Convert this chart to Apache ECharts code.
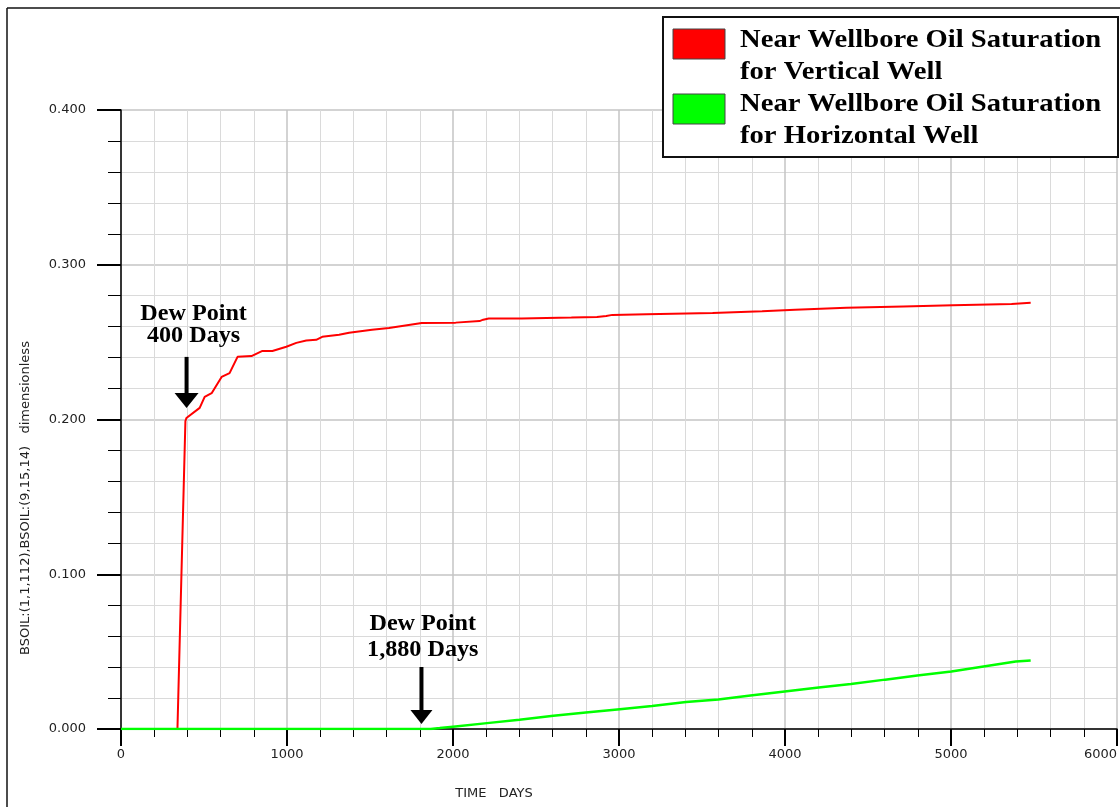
<!DOCTYPE html>
<html>
<head>
<meta charset="utf-8">
<title>Near Wellbore Oil Saturation</title>
<script src="https://cdn.jsdelivr.net/npm/echarts@6/dist/echarts.min.js"></script>
<style>
  html, body { margin: 0; padding: 0; background: #fff; }
  #chart { width: 1120px; height: 807px; }
</style>
</head>
<body>
<div id="chart"></div>
<script>
// Vertical well, grid block (1,1,112): time (days) and oil saturation
const daysVertical = [0, 340, 388, 394, 474, 504, 546, 606, 654, 702, 786, 852, 912, 996, 1056, 1116, 1176, 1212,
  1314, 1374, 1512, 1614, 1812, 2016, 2160, 2182, 2215, 2414, 2420, 2713, 2720, 2867, 2875, 2923, 2930, 2960,
  2967, 3166, 3173, 3564, 3571, 3862, 3869, 4061, 4068, 4215, 4222, 4370, 4377, 4713, 4720, 5011, 5018, 5365,
  5372, 5480];
const soilVertical = [0, 0, 0.199, 0.201, 0.2075, 0.2146, 0.217, 0.2275, 0.230, 0.2405, 0.241, 0.2443, 0.2443,
  0.247, 0.2495, 0.251, 0.2515, 0.2534, 0.2547, 0.256, 0.258, 0.2592, 0.2624, 0.2626, 0.2636, 0.2645, 0.2653,
  0.2653, 0.2659, 0.2659, 0.2663, 0.2663, 0.2669, 0.2669, 0.2676, 0.2676, 0.2680, 0.2680, 0.2688, 0.2688,
  0.2699, 0.2699, 0.2709, 0.2709, 0.2716, 0.2716, 0.2722, 0.2722, 0.2731, 0.2731, 0.2739, 0.2739, 0.2747,
  0.2747, 0.2754, 0.2754];

// Horizontal well, grid block (9,15,14)
const daysHorizontal = [0, 1866, 1920, 2000, 2205, 2400, 2605, 2800, 3005, 3199, 3404, 3598, 3792, 3998, 4203,
  4397, 4603, 4797, 5002, 5196, 5390, 5480];
const soilHorizontal = [0, 0, 0.0006, 0.0015, 0.0038, 0.006, 0.0085, 0.0106, 0.0128, 0.0149, 0.0174, 0.0191,
  0.0217, 0.0243, 0.0268, 0.0291, 0.0319, 0.0345, 0.0372, 0.0404, 0.0436, 0.0443];

// Axis ticks
const xTicks = [0, 1000, 2000, 3000, 4000, 5000, 6000];
const yTicks = [0, 0.1, 0.2, 0.3, 0.4];

// Legend entries and dew-point annotations
const seriesNames = [
  'Near Wellbore Oil Saturation\nfor Vertical Well',
  'Near Wellbore Oil Saturation\nfor Horizontal Well'
];
const seriesColors = ['#ff0000', '#00ff00'];
const dewPoints = [
  { day: 395, soil: 0.2, lines: ['Dew Point', '400 Days'] },
  { day: 1810, soil: 0, lines: ['Dew Point', '1,880 Days'] }
];

const chart = echarts.init(document.getElementById('chart'), null, { renderer: 'canvas' });

const pairs = (xs, ys) => xs.map((x, i) => [x, ys[i]]);
const LABEL_FONT = 'DejaVu Sans';
const SERIF = 'Liberation Serif';

const option = {
  animation: false,
  backgroundColor: '#ffffff',
  grid: { left: 121, top: 110, width: 1000, height: 619, containLabel: false },
  xAxis: {
    type: 'value',
    min: xTicks[0],
    max: xTicks[xTicks.length - 1],
    interval: xTicks[1] - xTicks[0],
    axisLine: { show: true, onZero: false, lineStyle: { color: '#000', width: 1.5 } },
    axisTick: { show: true, length: 17, lineStyle: { color: '#000', width: 2 } },
    minorTick: { show: true, splitNumber: 5, length: 8, lineStyle: { color: '#000', width: 1 } },
    splitLine: { show: true, lineStyle: { color: '#c4c4c4', width: 1.5 } },
    minorSplitLine: { show: true, lineStyle: { color: '#dadada', width: 1 } },
    axisLabel: {
      margin: 19, fontSize: 13, color: '#222', fontFamily: LABEL_FONT,
      alignMaxLabel: 'right',
      formatter: v => String(v)
    }
  },
  yAxis: {
    type: 'value',
    min: yTicks[0],
    max: yTicks[yTicks.length - 1],
    interval: yTicks[1] - yTicks[0],
    axisLine: { show: true, onZero: false, lineStyle: { color: '#000', width: 1.5 } },
    axisTick: { show: true, length: 24, lineStyle: { color: '#000', width: 2 } },
    minorTick: { show: true, splitNumber: 5, length: 13, lineStyle: { color: '#000', width: 1 } },
    splitLine: { show: true, lineStyle: { color: '#c4c4c4', width: 1.5 } },
    minorSplitLine: { show: true, lineStyle: { color: '#dadada', width: 1 } },
    axisLabel: {
      margin: 35, fontSize: 13, color: '#222', fontFamily: LABEL_FONT,
      formatter: v => v.toFixed(3)
    }
  },
  series: [
    {
      name: seriesNames[0],
      type: 'line',
      data: pairs(daysVertical, soilVertical),
      showSymbol: false,
      lineStyle: { color: seriesColors[0], width: 2 },
      itemStyle: { color: seriesColors[0] },
      z: 3
    },
    {
      name: seriesNames[1],
      type: 'line',
      data: pairs(daysHorizontal, soilHorizontal),
      showSymbol: false,
      lineStyle: { color: seriesColors[1], width: 2.5 },
      itemStyle: { color: seriesColors[1] },
      z: 4
    }
  ]
};

chart.setOption(option);

// Legend box, frame, axis titles and dew-point arrows
function buildGraphics() {
  const els = [];

  // outer frame (left and top edges)
  els.push({ type: 'line', shape: { x1: 7, y1: 8, x2: 1120, y2: 8 }, style: { stroke: '#111', lineWidth: 1.5 }, z: 10 });
  els.push({ type: 'line', shape: { x1: 7, y1: 8, x2: 7, y2: 807 }, style: { stroke: '#111', lineWidth: 1.5 }, z: 10 });

  // axis titles
  els.push({
    type: 'text', x: 26, y: 498, rotation: Math.PI / 2,
    style: {
      text: 'BSOIL:(1,1,112),BSOIL:(9,15,14)   dimensionless',
      fontSize: 13, fontFamily: LABEL_FONT, fill: '#222', align: 'center', verticalAlign: 'middle'
    }, z: 10
  });
  els.push({
    type: 'text', x: 494, y: 794,
    style: { text: 'TIME   DAYS', fontSize: 13, fontFamily: LABEL_FONT, fill: '#222', align: 'center', verticalAlign: 'middle' },
    z: 10
  });

  // legend
  const legendChildren = [
    { type: 'rect', shape: { x: 663, y: 17, width: 455, height: 140 }, style: { fill: '#fff', stroke: '#111', lineWidth: 2 } }
  ];
  seriesNames.forEach((name, i) => {
    const top = 29 + i * 65;
    legendChildren.push({
      type: 'rect', shape: { x: 673, y: top, width: 52, height: 30 },
      style: { fill: seriesColors[i], stroke: '#444', lineWidth: 1 }
    });
    name.split('\n').forEach((line, j) => {
      legendChildren.push({
        type: 'text', x: 740, y: 41 + i * 64 + j * 32, scaleX: 1.145,
        style: {
          text: line, fontSize: 25, fontWeight: 'bold', fontFamily: SERIF,
          fill: '#000', align: 'left', verticalAlign: 'middle'
        }
      });
    });
  });
  els.push({ type: 'group', children: legendChildren, z: 20 });

  // dew-point arrows anchored on the data scales
  const layouts = [
    { dx: 7, textY: [-105.6, -83.6], shaftTop: -62.6, headTop: -26.6, tip: -11.6, headW: 24 },
    { dx: 1.3, textY: [-105, -79], shaftTop: -62, headTop: -19, tip: -5, headW: 22 }
  ];
  dewPoints.forEach((dp, k) => {
    const [px, py] = chart.convertToPixel({ gridIndex: 0 }, [dp.day, dp.soil]);
    const L = layouts[k];
    dp.lines.forEach((line, j) => {
      els.push({
        type: 'text', x: px + L.dx, y: py + L.textY[j], scaleX: 1.05,
        style: {
          text: line, fontSize: 23, fontWeight: 'bold', fontFamily: SERIF,
          fill: '#000', align: 'center', verticalAlign: 'middle'
        },
        z: 15
      });
    });
    els.push({
      type: 'rect', shape: { x: px - 2, y: py + L.shaftTop, width: 4, height: L.headTop - L.shaftTop + 1 },
      style: { fill: '#000' }, z: 15
    });
    els.push({
      type: 'polygon',
      shape: { points: [[px - L.headW / 2, py + L.headTop], [px + L.headW / 2, py + L.headTop], [px, py + L.tip]] },
      style: { fill: '#000' }, z: 15
    });
  });

  return els;
}

chart.setOption({ graphic: buildGraphics() });
</script>
</body>
</html>
